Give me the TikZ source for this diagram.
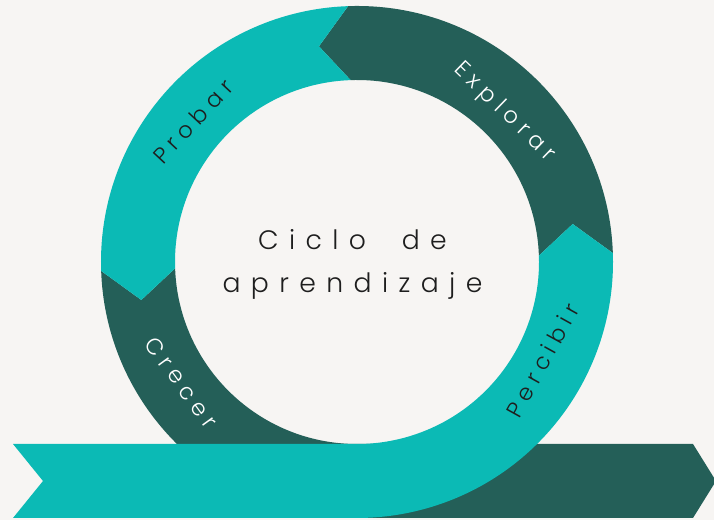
\documentclass[tikz,border=0pt]{standalone}
\usepackage{fontspec}
\IfFontExistsTF{Poppins Light}{\setmainfont{Poppins Light}}{\setmainfont{Poppins}}
\definecolor{tealc}{HTML}{0BBAB5}
\definecolor{darkc}{HTML}{245F58}
\definecolor{bgc}{HTML}{F7F5F3}
\definecolor{inkc}{HTML}{1E1E1E}
\tikzset{
  ctext/.style={inner sep=0pt, anchor=base, text=inkc,
    font=\fontsize{20}{22}\selectfont\addfontfeatures{LetterSpace=39}},
  ringlabel/.style={inner sep=0pt, anchor=center,
    font=\fontsize{17}{19}\selectfont\addfontfeatures{LetterSpace=27}},
  onteal/.style={ringlabel, text=inkc},
  ondark/.style={ringlabel, text=white},
}
\begin{document}
\begin{tikzpicture}[x=0.75pt,y=0.75pt]
\useasboundingbox (0,0) rectangle (714,520);
\fill[bgc] (0,0) rectangle (714,520);
\clip (0,0) rectangle (714,520);
\begin{scope}[shift={(357,258)}]
  % dark segments (drawn first)
  \fill[darkc] (92:256) arc[start angle=92,end angle=2,radius=256]
     -- (10:219) -- (2:182) arc[start angle=2,end angle=92,radius=182]
     -- (100:219) -- cycle;
  \fill[darkc] (182:256) -- (190:219) -- (182:182)
     arc[start angle=182,end angle=270,radius=182]
     -- (336,-182) -- (359,-219) -- (336,-256) -- (0,-256)
     arc[start angle=270,end angle=182,radius=256] -- cycle;
  % teal segments (on top)
  \fill[tealc] (92:256) arc[start angle=92,end angle=182,radius=256]
     -- (190:219) -- (182:182) arc[start angle=182,end angle=92,radius=182]
     -- (100:219) -- cycle;
  \fill[tealc] (2:182) -- (10:219) -- (2:256)
     arc[start angle=2,end angle=-90,radius=256]
     -- (-344,-256) -- (-314,-219) -- (-344,-182) -- (0,-182)
     arc[start angle=-90,end angle=2,radius=182] -- cycle;
  % labels
  \node[ondark, rotate=-44] (explorar) at (45.5:210) {Explorar};
  \node[onteal, rotate=47] (probar) at (139.5:216) {Probar};
  \node[ondark, rotate=-54] (crecer) at (214.5:213) {Crecer};
  \node[onteal, rotate=61] (percibir) at (-28:210) {Percibir};
  % centre text
  \node[ctext] (line1) at (-4.5,12) {Ciclo\hspace{13.5pt} de};
  \node[ctext] (line2) at (-4.5,-31) {aprendizaje};
\end{scope}
\end{tikzpicture}
\end{document}
